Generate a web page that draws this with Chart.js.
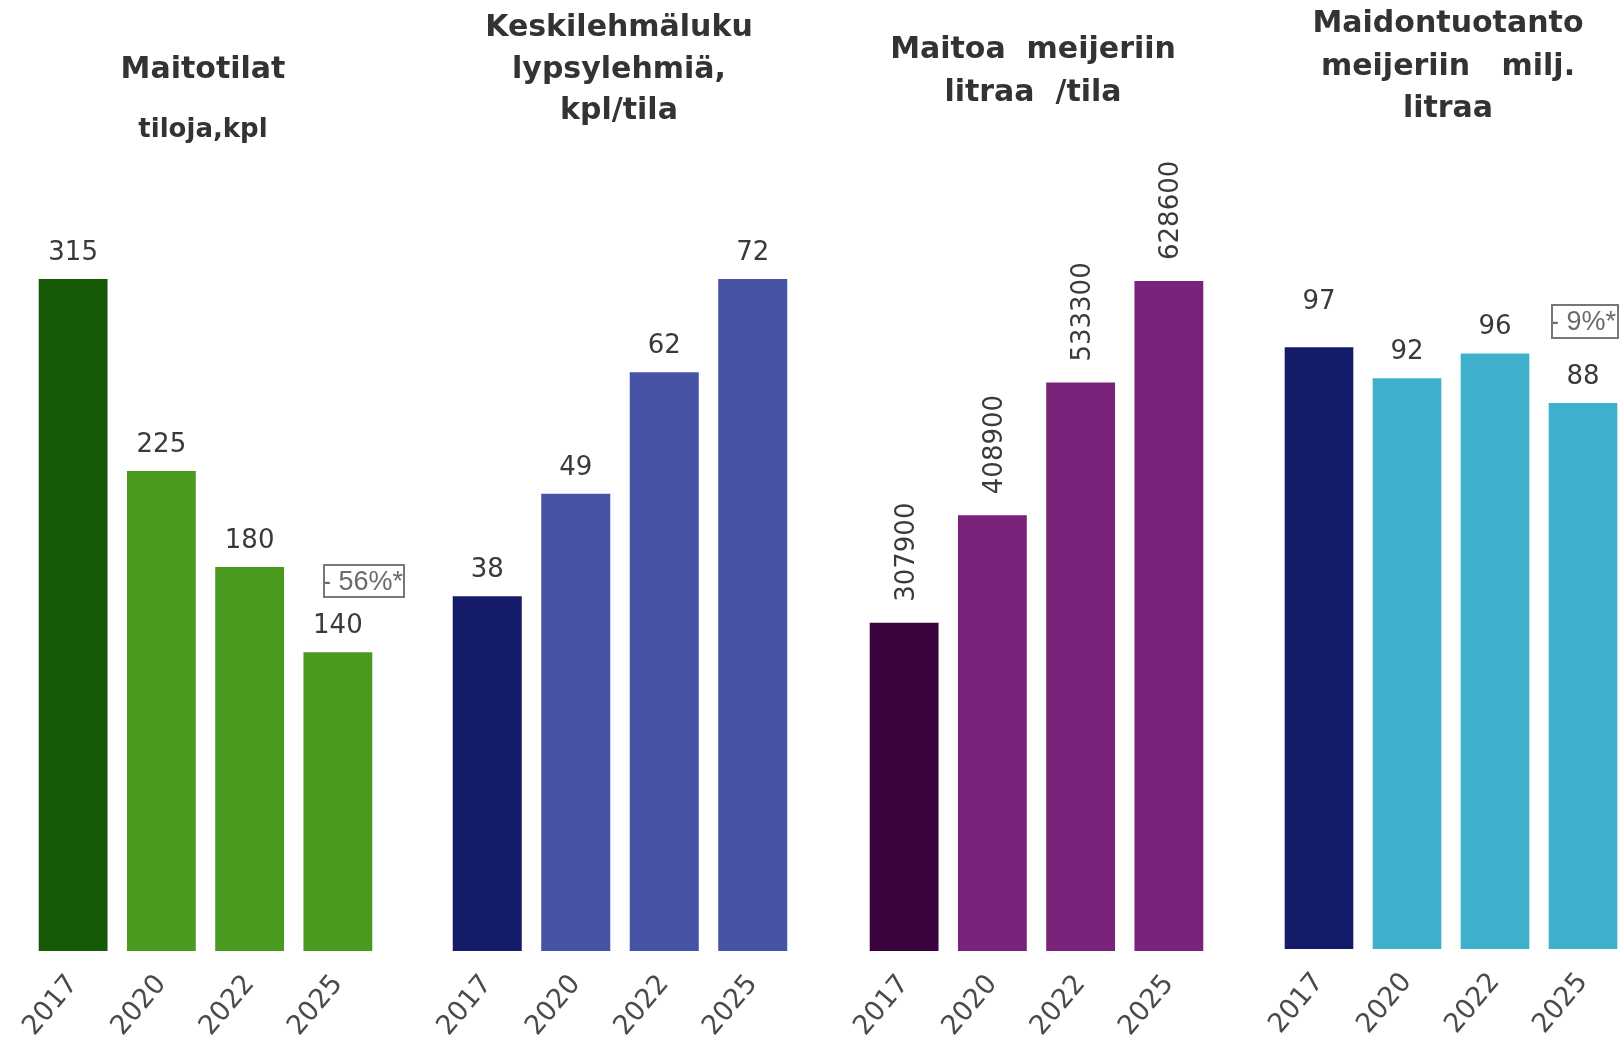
<!DOCTYPE html>
<html><head><meta charset="utf-8">
<script src="https://cdn.jsdelivr.net/npm/chart.js@4.4.1/dist/chart.umd.min.js"></script>
<style>
html,body{margin:0;padding:0;background:#fff;overflow:hidden;width:1621px;height:1040px;position:relative;}
canvas.cv{position:absolute;left:0;top:0;}
.title{position:absolute;font-family:"DejaVu Sans";font-weight:bold;font-size:30px;color:#333;text-align:center;white-space:pre;width:500px;}
.box{position:absolute;border:2px solid #777;box-sizing:border-box;font-family:"Liberation Sans";font-size:27px;color:#6b6b6b;white-space:pre;line-height:28px;padding-top:1px;text-indent:-3px;overflow:hidden;}
</style></head>
<body>
<script>
// ---- data ----
const years = ['2017', '2020', '2022', '2025'];
const maitotilat = [315, 225, 180, 140];
const keskilehmaluku = [38, 49, 62, 72];
const maitoaPerTila = [307900, 408900, 533300, 628600];
const maidontuotanto = [97, 92, 96, 88];
const title1 = ['Maitotilat'];
const subtitle1 = ['tiloja,kpl'];
const title2 = ['Keskilehmäluku', 'lypsylehmiä,', 'kpl/tila'];
const title3 = ['Maitoa  meijeriin', 'litraa  /tila'];
const title4 = ['Maidontuotanto', 'meijeriin   milj.', 'litraa'];
const change1 = '- 56%*';
const change4 = '- 9%*';

const CW = 1700, CH = 1040;

const valueLabels = {
  id: 'valueLabels',
  afterDatasetsDraw(chart, args, o) {
    const ctx = chart.ctx;
    const meta = chart.getDatasetMeta(0);
    const data = chart.data.datasets[0].data;
    ctx.save();
    ctx.fillStyle = o.color;
    ctx.font = o.font;
    meta.data.forEach((bar, i) => {
      const txt = String(data[i]);
      const extra = (o.extra && o.extra[i]) || 0;
      if (o.vertical) {
        ctx.save();
        ctx.translate(bar.x, bar.y - o.gap);
        ctx.rotate(-Math.PI / 2);
        ctx.textAlign = 'left';
        ctx.textBaseline = 'alphabetic';
        ctx.fillText(txt, 0, o.cap / 2);
        ctx.restore();
      } else {
        ctx.textAlign = 'center';
        ctx.textBaseline = 'alphabetic';
        ctx.fillText(txt, bar.x, bar.y - o.gap - extra);
      }
    });
    ctx.restore();
  }
};

function addDiv(cls, text, style) {
  const d = document.createElement('div');
  d.className = cls;
  d.textContent = text;
  Object.assign(d.style, style);
  document.body.appendChild(d);
  return d;
}

function makePanel(p) {
  const c = document.createElement('canvas');
  c.className = 'cv';
  c.width = CW; c.height = CH;
  document.body.appendChild(c);
  new Chart(c, {
    type: 'bar',
    data: {
      labels: years,
      datasets: [{
        data: p.data,
        backgroundColor: p.colors,
        borderWidth: 0,
        barPercentage: 1,
        categoryPercentage: 0.78
      }]
    },
    options: {
      responsive: false,
      animation: false,
      events: [],
      layout: { padding: { left: p.left, right: CW - p.right, top: p.top, bottom: 0 } },
      plugins: {
        legend: { display: false },
        tooltip: { enabled: false },
        valueLabels: p.labels
      },
      scales: {
        x: {
          grid: { display: false, drawTicks: false },
          border: { display: false },
          ticks: {
            autoSkip: false,
            minRotation: 50, maxRotation: 50,
            padding: 18,
            color: '#4a4a4a',
            font: { family: 'DejaVu Sans', size: 27 }
          },
          afterFit(s) { s.height = CH - p.bottom; }
        },
        y: { display: false, min: 0, max: p.ymax }
      }
    },
    plugins: [valueLabels]
  });
}

const lblFont = '26px "DejaVu Sans"';
makePanel({
  data: maitotilat, colors: ['#165a07', '#4a9a20', '#4a9a20', '#4a9a20'],
  left: 29, right: 382, top: 279, bottom: 951, ymax: 315,
  labels: { font: lblFont, color: '#3a3a3a', gap: 19 }
});
makePanel({
  data: keskilehmaluku, colors: ['#141b69', '#4753a5', '#4753a5', '#4753a5'],
  left: 443, right: 797, top: 279, bottom: 951, ymax: 72,
  labels: { font: lblFont, color: '#3a3a3a', gap: 19 }
});
makePanel({
  data: maitoaPerTila, colors: ['#3b033d', '#79227a', '#79227a', '#79227a'],
  left: 860, right: 1213, top: 281, bottom: 951, ymax: 628600,
  labels: { font: lblFont, color: '#3a3a3a', gap: 21, vertical: true, cap: 19 }
});
makePanel({
  data: maidontuotanto, colors: ['#141b69', '#3fb0cc', '#3fb0cc', '#3fb0cc'],
  left: 1275, right: 1627, top: 279, bottom: 949, ymax: 108,
  labels: { font: lblFont, color: '#3a3a3a', gap: 19, extra: [19, 0, 0, 0] }
});

// titles
addDiv('title', title1.join('\n'), { left: (203 - 250) + 'px', top: '47px', lineHeight: '42px' });
addDiv('title', subtitle1.join('\n'), { left: (203 - 250) + 'px', top: '107px', lineHeight: '42px', fontSize: '26px' });
addDiv('title', title2.join('\n'), { left: (619 - 250) + 'px', top: '5px', lineHeight: '41.5px' });
addDiv('title', title3.join('\n'), { left: (1033 - 250) + 'px', top: '26px', lineHeight: '43px' });
addDiv('title', title4.join('\n'), { left: (1448 - 250) + 'px', top: '1px', lineHeight: '42.5px' });

// change boxes
addDiv('box', change1, { left: '323px', top: '564px', width: '82px', height: '34px' });
addDiv('box', change4, { left: '1551px', top: '304px', width: '68px', height: '35px' });
</script>
</body></html>
